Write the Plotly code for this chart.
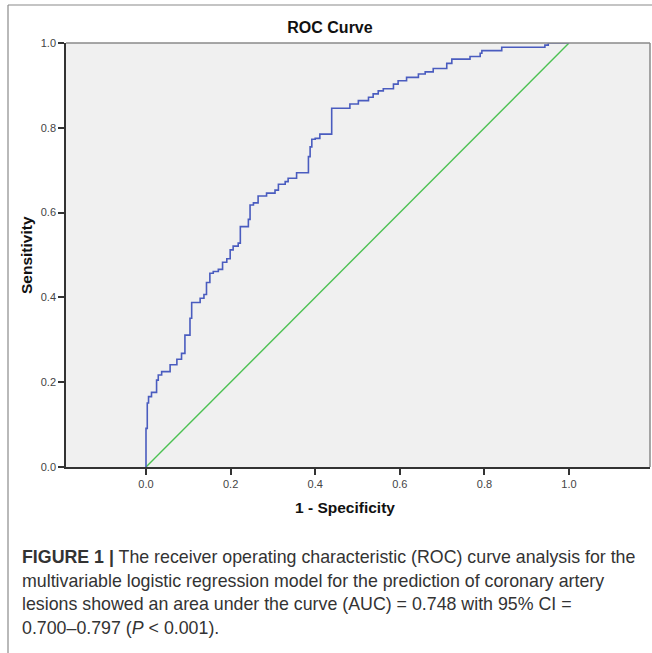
import plotly.graph_objects as go

# ROC curve points (1 - specificity, sensitivity)
fpr = [0.0, 0.0, 0.003, 0.006, 0.013, 0.025, 0.029, 0.037, 0.057, 0.073, 0.084,
       0.092, 0.104, 0.108, 0.128, 0.137, 0.143, 0.151, 0.159, 0.171, 0.181,
       0.191, 0.199, 0.206, 0.218, 0.223, 0.242, 0.246, 0.254, 0.265, 0.285,
       0.305, 0.313, 0.329, 0.336, 0.356, 0.384, 0.388, 0.392, 0.400, 0.411,
       0.439, 0.482, 0.502, 0.526, 0.537, 0.549, 0.561, 0.585, 0.596, 0.616,
       0.644, 0.660, 0.679, 0.711, 0.723, 0.766, 0.790, 0.794, 0.841, 0.943,
       0.951, 1.0]
tpr = [0.0, 0.091, 0.151, 0.166, 0.176, 0.205, 0.217, 0.225, 0.241, 0.254, 0.268,
       0.311, 0.351, 0.388, 0.398, 0.407, 0.435, 0.457, 0.461, 0.466, 0.483,
       0.491, 0.512, 0.521, 0.528, 0.567, 0.584, 0.618, 0.623, 0.639, 0.646,
       0.653, 0.667, 0.673, 0.681, 0.694, 0.732, 0.755, 0.773, 0.775, 0.785,
       0.846, 0.856, 0.864, 0.872, 0.880, 0.887, 0.892, 0.903, 0.911, 0.919,
       0.927, 0.932, 0.940, 0.952, 0.962, 0.968, 0.976, 0.982, 0.990, 0.995,
       1.0, 1.0]

ref_x = [0.0, 1.0]
ref_y = [0.0, 1.0]

tick_vals = [0.0, 0.2, 0.4, 0.6, 0.8, 1.0]
tick_text = ["0.0", "0.2", "0.4", "0.6", "0.8", "1.0"]

caption_lines = [
    "<b>FIGURE 1 |</b> The receiver operating characteristic (ROC) curve analysis for the",
    "multivariable logistic regression model for the prediction of coronary artery",
    "lesions showed an area under the curve (AUC) = 0.748 with 95% CI =",
    "0.700–0.797 (<i>P</i> < 0.001).",
]

W, H = 652, 653
L, R, T, B = 66, 650, 43, 467  # plot area pixel bounds
x0_px, x1_px = 146, 569          # pixels of x=0 and x=1

def px2paper_x(px):
    return (px - L) / (R - L)

def py2paper_y(py):
    return (B - py) / (B - T)

xr = [(L - x0_px) / (x1_px - x0_px), (R - x0_px) / (x1_px - x0_px)]

fig = go.Figure()
fig.add_trace(go.Scatter(x=ref_x, y=ref_y, mode="lines",
                         line=dict(color="#4cc152", width=1.4), hoverinfo="skip"))
fig.add_trace(go.Scatter(x=fpr, y=tpr, mode="lines", line_shape="hv",
                         line=dict(color="#4a5cbf", width=1.6), hoverinfo="skip"))

font = "Arial, 'Liberation Sans', sans-serif"
fig.update_layout(
    width=W, height=H,
    margin=dict(l=L, r=W - R, t=T, b=H - B, pad=0),
    paper_bgcolor="white", plot_bgcolor="#f0f0f0",
    showlegend=False,
    font=dict(family=font, color="#333"),
    title=dict(text="<b>ROC Curve</b>", x=330 / W, xref="container", xanchor="center",
               y=1 - 27 / H, yref="container", yanchor="middle",
               font=dict(size=16, color="#111")),
)
fig.update_xaxes(range=xr, tickvals=tick_vals, ticktext=tick_text, showgrid=False,
                 zeroline=False, showline=True, linecolor="#333", linewidth=1.6,
                 ticks="outside", ticklen=6, tickcolor="#333", tickwidth=1.5,
                 tickfont=dict(size=11, color="#444"))
fig.update_yaxes(range=[0, 1], tickvals=tick_vals, ticktext=tick_text, showgrid=False,
                 zeroline=False, showline=True, linecolor="#333", linewidth=1.6,
                 ticks="outside", ticklen=6, tickcolor="#333", tickwidth=1.5,
                 tickfont=dict(size=11, color="#444"))

# plot box top/right border (gray), outer frame
fig.add_shape(type="line", xref="paper", yref="paper", x0=0, x1=1, y0=1, y1=1,
              line=dict(color="#8a8a8a", width=1.5))
fig.add_shape(type="line", xref="paper", yref="paper", x0=1, x1=1, y0=0, y1=1,
              line=dict(color="#8a8a8a", width=1.5))
fig.add_shape(type="line", xref="paper", yref="paper",
              x0=px2paper_x(8), x1=px2paper_x(652), y0=py2paper_y(5), y1=py2paper_y(5),
              line=dict(color="#8a8a8a", width=1.2))
fig.add_shape(type="line", xref="paper", yref="paper",
              x0=px2paper_x(8), x1=px2paper_x(8), y0=py2paper_y(5), y1=py2paper_y(653),
              line=dict(color="#8a8a8a", width=1.2))

# axis titles
fig.add_annotation(text="<b>1 - Specificity</b>", xref="paper", yref="paper",
                   x=px2paper_x(345), y=py2paper_y(507), showarrow=False,
                   xanchor="center", yanchor="middle", font=dict(size=15.5, color="#111"))
fig.add_annotation(text="<b>Sensitivity</b>", xref="paper", yref="paper",
                   x=px2paper_x(26), y=py2paper_y(255), showarrow=False, textangle=-90,
                   xanchor="center", yanchor="middle", font=dict(size=15.5, color="#111"))

# caption
for i, line in enumerate(caption_lines):
    fig.add_annotation(text=line, xref="paper", yref="paper",
                       x=px2paper_x(20), y=py2paper_y(557 + 23.7 * i), showarrow=False,
                       xanchor="left", yanchor="middle", align="left",
                       font=dict(size=17.8, color="#333", family=font))

fig.write_html("out.html", config={"displayModeBar": False},
               post_script="document.body.style.margin='0';"
                           "document.body.style.overflow='hidden';"
                           "document.documentElement.style.overflow='hidden';")
